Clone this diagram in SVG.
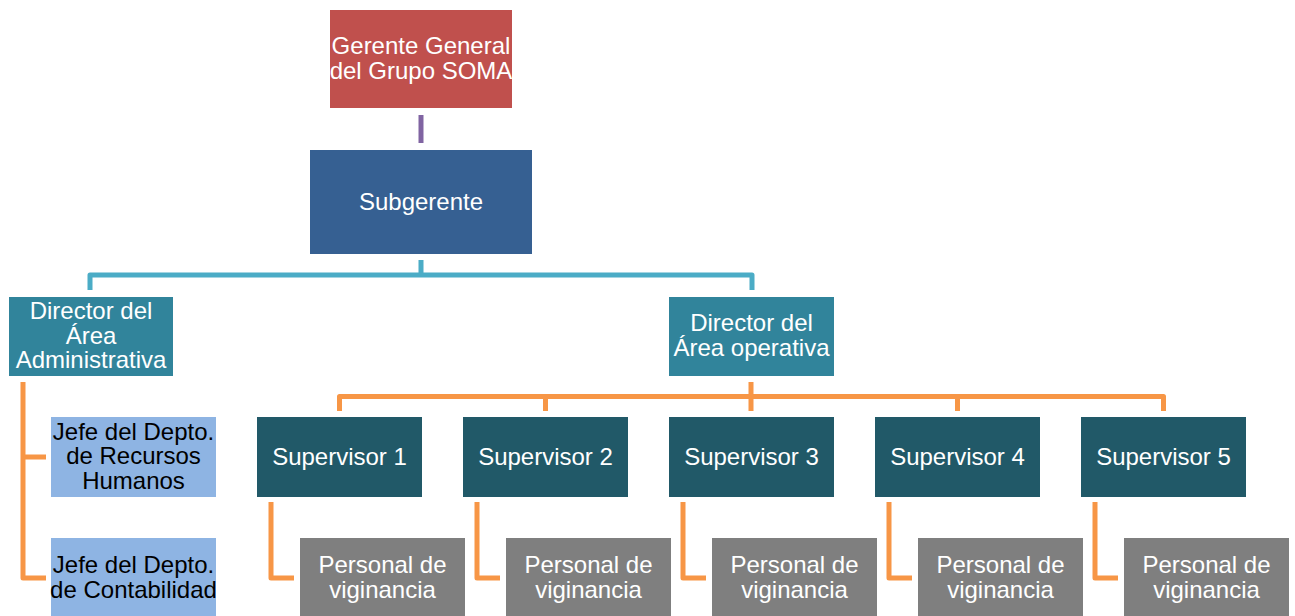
<svg xmlns="http://www.w3.org/2000/svg" width="1295" height="616" viewBox="0 0 1295 616">
<style>
text{font-family:"Liberation Sans",Arial,sans-serif;font-size:24px;text-anchor:middle;fill:#ffffff}
.dark{fill:#000000}
.conn{fill:none;stroke-width:5;stroke-linejoin:round}
.org{stroke:#F79646}
</style>
<rect width="1295" height="616" fill="#ffffff"/>
<g id="connectors">
<line class="conn" x1="421" y1="115" x2="421" y2="143" stroke="#8064A2"/>
<path class="conn" stroke="#4BACC6" d="M421,260 V275 M90,290 V275 H752 V290"/>
<path class="conn org" d="M23,382 V578 H46 M23,457 H46"/>
<path class="conn org" d="M751,382 V411 M339.5,411 V396.5 H1163.5 V411 M545.5,396.5 V411 M957.5,396.5 V411"/>
<path class="conn org" d="M271,502 V578 H294 M477,502 V578 H500 M683,502 V578 H706 M889,502 V578 H912 M1095,502 V578 H1118"/>
</g>
<g id="gerente"><rect x="330" y="10" width="182" height="98" fill="#C0504D"/><text x="421" y="54">Gerente General</text><text x="421" y="78.5">del Grupo SOMA</text></g>
<g id="subgerente"><rect x="310" y="150" width="222" height="104" fill="#366092"/><text x="421" y="209.5">Subgerente</text></g>
<g id="dir-admin"><rect x="9" y="297" width="164" height="79" fill="#31849B"/><text x="91" y="319">Director del</text><text x="91" y="343.5">Área</text><text x="91" y="368">Administrativa</text></g>
<g id="dir-oper"><rect x="669" y="297" width="165" height="79" fill="#31849B"/><text x="751.5" y="331">Director del</text><text x="751.5" y="355.5">Área operativa</text></g>
<g id="jefe-rh"><rect x="51" y="417" width="165" height="80" fill="#8EB4E3"/><text class="dark" x="133.5" y="439.5">Jefe del Depto.</text><text class="dark" x="133.5" y="464">de Recursos</text><text class="dark" x="133.5" y="488.5">Humanos</text></g>
<g id="jefe-cont"><rect x="51" y="538" width="165" height="80" fill="#8EB4E3"/><text class="dark" x="133.5" y="573">Jefe del Depto.</text><text class="dark" x="133.5" y="597.5">de Contabilidad</text></g>
<g id="sup1"><rect x="257" y="417" width="165" height="80" fill="#215968"/><text x="339.5" y="464.5">Supervisor 1</text></g>
<g id="sup2"><rect x="463" y="417" width="165" height="80" fill="#215968"/><text x="545.5" y="464.5">Supervisor 2</text></g>
<g id="sup3"><rect x="669" y="417" width="165" height="80" fill="#215968"/><text x="751.5" y="464.5">Supervisor 3</text></g>
<g id="sup4"><rect x="875" y="417" width="165" height="80" fill="#215968"/><text x="957.5" y="464.5">Supervisor 4</text></g>
<g id="sup5"><rect x="1081" y="417" width="165" height="80" fill="#215968"/><text x="1163.5" y="464.5">Supervisor 5</text></g>
<g id="pers1"><rect x="300" y="538" width="165" height="80" fill="#7F7F7F"/><text x="382.5" y="573">Personal de</text><text x="382.5" y="597.5">viginancia</text></g>
<g id="pers2"><rect x="506" y="538" width="165" height="80" fill="#7F7F7F"/><text x="588.5" y="573">Personal de</text><text x="588.5" y="597.5">viginancia</text></g>
<g id="pers3"><rect x="712" y="538" width="165" height="80" fill="#7F7F7F"/><text x="794.5" y="573">Personal de</text><text x="794.5" y="597.5">viginancia</text></g>
<g id="pers4"><rect x="918" y="538" width="165" height="80" fill="#7F7F7F"/><text x="1000.5" y="573">Personal de</text><text x="1000.5" y="597.5">viginancia</text></g>
<g id="pers5"><rect x="1124" y="538" width="165" height="80" fill="#7F7F7F"/><text x="1206.5" y="573">Personal de</text><text x="1206.5" y="597.5">viginancia</text></g>
</svg>
